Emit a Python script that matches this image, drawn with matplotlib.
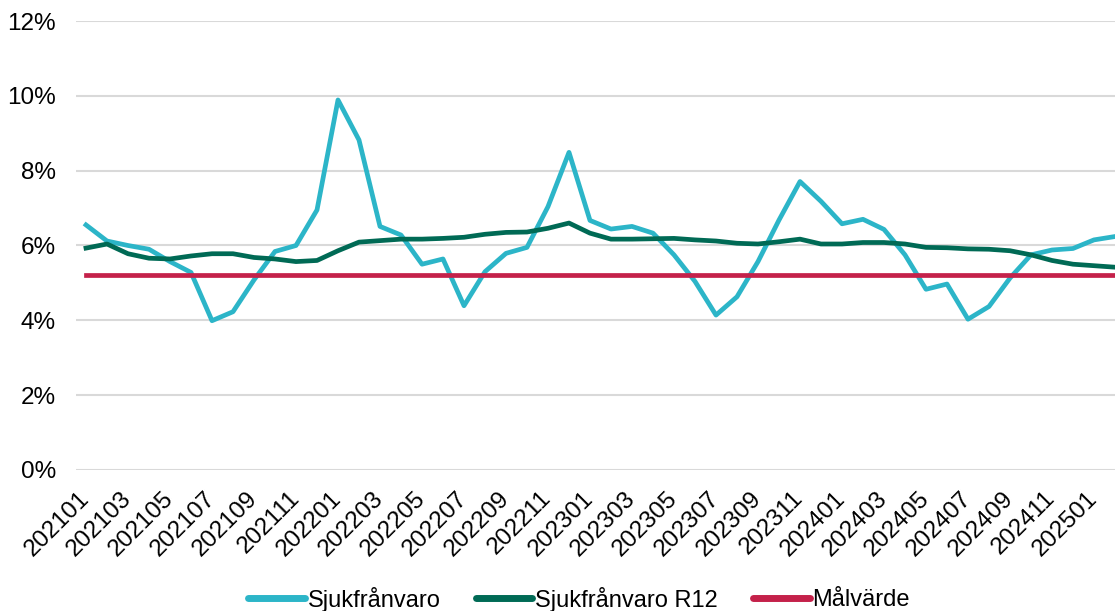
import numpy as np
import matplotlib.pyplot as plt
from matplotlib.ticker import FuncFormatter

plt.rcParams['font.family'] = ['Liberation Sans', 'DejaVu Sans']

# months 202101 .. 202502
months = [f"{y}{m:02d}" for y in (2021, 2022, 2023, 2024) for m in range(1, 13)] + ["202501", "202502"]

sjuk = [6.55, 6.12, 6.00, 5.90, 5.57, 5.28, 3.99, 4.23, 5.08, 5.84,
        6.00, 6.95, 9.89, 8.82, 6.51, 6.28, 5.50, 5.64, 4.39, 5.30,
        5.79, 5.95, 7.04, 8.49, 6.67, 6.44, 6.51, 6.33, 5.75, 5.04,
        4.14, 4.63, 5.57, 6.68, 7.71, 7.18, 6.58, 6.70, 6.43, 5.75,
        4.83, 4.97, 4.03, 4.37, 5.13, 5.75, 5.88, 5.92, 6.15, 6.24]

sjuk_r12 = [5.93, 6.04, 5.78, 5.66, 5.64, 5.72, 5.78, 5.78, 5.68, 5.64,
            5.57, 5.60, 5.86, 6.09, 6.13, 6.17, 6.17, 6.19, 6.22, 6.30,
            6.35, 6.36, 6.46, 6.60, 6.33, 6.17, 6.17, 6.18, 6.19, 6.15,
            6.12, 6.06, 6.04, 6.10, 6.17, 6.04, 6.04, 6.08, 6.08, 6.04,
            5.95, 5.94, 5.91, 5.90, 5.86, 5.75, 5.60, 5.50, 5.46, 5.42]

malvarde = [5.2] * len(months)

x = np.arange(len(months))

fig = plt.figure(figsize=(11.15, 6.11), dpi=100)
ax = fig.add_axes([75.5 / 1115, 141 / 611, 1050 / 1115, 449 / 611])

ax.plot(x, sjuk, color='#2CB5C8', lw=3.4, label='Sjukfrånvaro')
ax.plot(x, sjuk_r12, color='#006A55', lw=3.4, label='Sjukfrånvaro R12')
ax.plot(x, malvarde, color='#C4214A', lw=3.4, label='Målvärde')

ax.set_ylim(0, 12)
ax.set_xlim(-0.5, 49.5)
ax.set_yticks(np.arange(0, 13, 2))
ax.yaxis.set_major_formatter(FuncFormatter(lambda v, p: f"{v:.0f}%"))
ax.set_xticks(x[::2])
ax.set_xticklabels(months[::2], rotation=45, ha='right', va='center',
                   rotation_mode='anchor')
ax.tick_params(axis='both', length=0, labelsize=17.5)
ax.tick_params(axis='x', pad=18)
ax.tick_params(axis='y', pad=14)
ax.grid(axis='y', color='#D9D9D9', lw=1.5)
ax.set_axisbelow(True)
for s in ax.spines.values():
    s.set_visible(False)

leg = fig.legend(loc='center', bbox_to_anchor=(579 / 1115, 1 - 599 / 611), ncol=3,
                 frameon=False, fontsize=17, handlelength=2.4, handletextpad=0.1,
                 columnspacing=1.5)
for h in leg.get_lines():
    h.set_linewidth(5)
    h.set_solid_capstyle('round')

fig.savefig('out.png', dpi=100)
